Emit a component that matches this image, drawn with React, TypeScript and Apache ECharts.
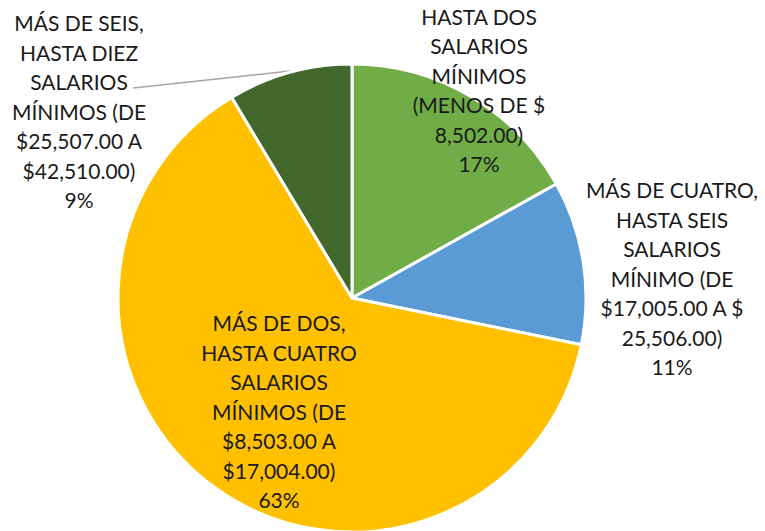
import React, { useEffect, useRef } from "react";
import * as echarts from "echarts";

const categories = [
  "HASTA DOS\nSALARIOS\nMÍNIMOS\n(MENOS DE $\n8,502.00)",
  "MÁS DE CUATRO,\nHASTA SEIS\nSALARIOS\nMÍNIMO (DE\n$17,005.00 A $\n25,506.00)",
  "MÁS DE DOS,\nHASTA CUATRO\nSALARIOS\nMÍNIMOS (DE\n$8,503.00 A\n$17,004.00)",
  "MÁS DE SEIS,\nHASTA DIEZ\nSALARIOS\nMÍNIMOS (DE\n$25,507.00 A\n$42,510.00)",
];
const values = [16.9, 11.3, 63.2, 8.6];
const colors = ["#70AD47", "#5B9BD5", "#FFC000", "#43682B"];

const labelCenters = [
  [479, 90],
  [672, 278],
  [279, 411],
  [79, 111],
];

export default function App() {
  const ref = useRef<HTMLDivElement>(null);
  useEffect(() => {
    if (!ref.current) return;
    const chart = echarts.init(ref.current, undefined, { renderer: "svg" });
    chart.setOption({
      animation: false,
      backgroundColor: "#ffffff",
      series: [
        {
          type: "pie",
          center: [352, 298],
          radius: 234,
          startAngle: 90,
          clockwise: true,
          avoidLabelOverlap: false,
          itemStyle: { borderColor: "#ffffff", borderWidth: 3 },
          label: {
            show: true,
            position: "outside",
            fontFamily: "Lato, 'Noto Sans', sans-serif",
            fontSize: 21,
            lineHeight: 29.5,
            color: "#1a1a1a",
            align: "center",
            formatter: (p: any) => `${p.name}\n${Math.round(p.percent)}%`,
          },
          labelLine: { show: false },
          labelLayout: (p: any) => {
            const c = labelCenters[p.dataIndex];
            const res: any = {
              x: c[0],
              y: c[1],
              align: "center",
              verticalAlign: "middle",
            };
            if (p.dataIndex === 3) {
              res.labelLinePoints = [
                [290, 71],
                [212, 79.5],
                [133, 88],
              ];
            }
            return res;
          },
          data: categories.map((name, i) => ({
            name,
            value: values[i],
            itemStyle: { color: colors[i] },
            labelLine:
              i === 3
                ? { show: true, lineStyle: { color: "#a6a6a6", width: 1.5 } }
                : { show: false },
          })),
        },
      ],
    });
    return () => chart.dispose();
  }, []);
  return (
    <div
      ref={ref}
      style={{ position: "fixed", left: 0, top: 0, width: 765, height: 531 }}
    />
  );
}
